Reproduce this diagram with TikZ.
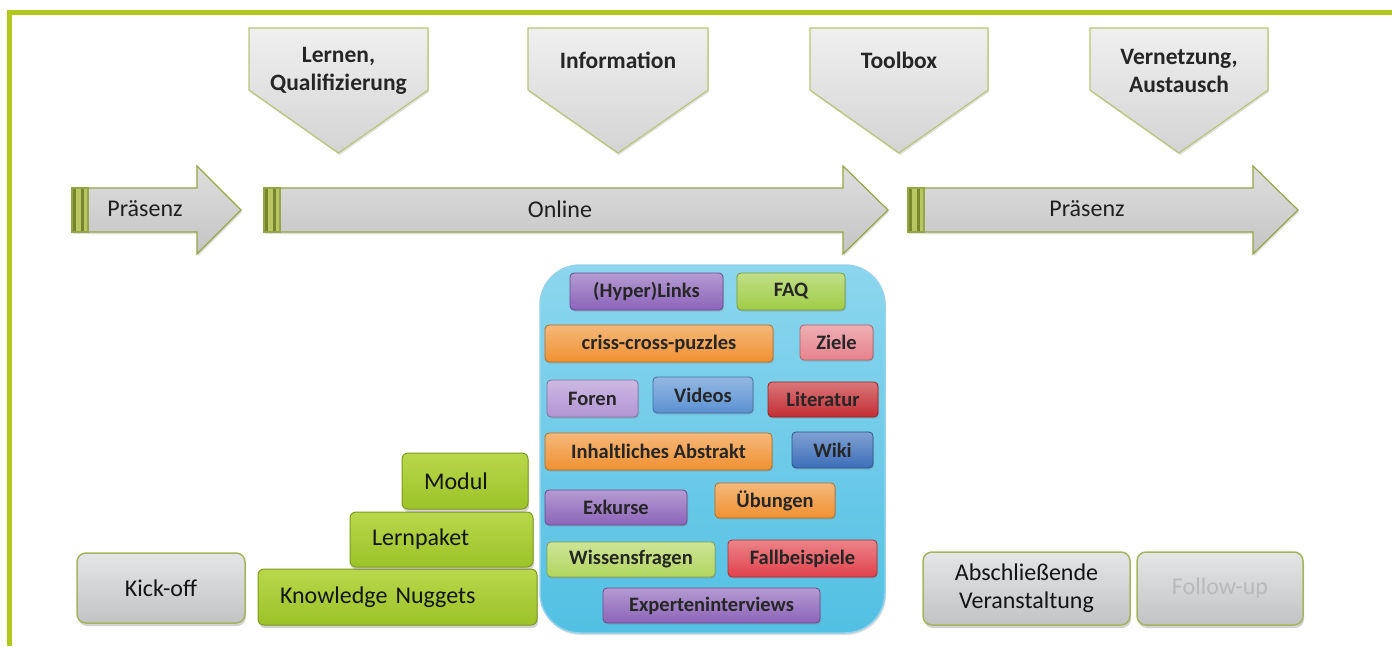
\documentclass[tikz,border=0pt]{standalone}
\usepackage{fontspec}
\setmainfont{Carlito}
\usetikzlibrary{shadows}
\definecolor{framegreen}{RGB}{178,200,30}
\definecolor{olivebd}{RGB}{150,165,70}
\definecolor{penbd}{RGB}{185,198,120}
\definecolor{stripebg}{RGB}{185,198,100}
\definecolor{stripedk}{RGB}{120,135,45}
\definecolor{stacktop}{RGB}{185,215,75}
\definecolor{stackbot}{RGB}{155,195,40}
\definecolor{stackbd}{RGB}{125,155,30}
\definecolor{graytop}{RGB}{228,229,230}
\definecolor{graybot}{RGB}{193,195,197}
\definecolor{graybd}{RGB}{165,180,95}
\definecolor{pooltop}{RGB}{140,214,238}
\definecolor{poolbot}{RGB}{82,192,227}
\definecolor{poolbd}{RGB}{150,210,235}
\definecolor{cpurple}{RGB}{140,100,185}
\definecolor{clpurple}{RGB}{178,148,212}
\definecolor{cgreen}{RGB}{160,205,70}
\definecolor{clgreen}{RGB}{178,214,95}
\definecolor{corange}{RGB}{240,145,50}
\definecolor{cpink}{RGB}{230,130,140}
\definecolor{cblue}{RGB}{90,145,210}
\definecolor{cdblue}{RGB}{60,110,185}
\definecolor{cred}{RGB}{195,45,50}
\definecolor{cred2}{RGB}{225,65,75}
\tikzset{
  lbl/.style={font=\fontsize{24}{28}\selectfont, text=black!88, inner sep=0pt},
  pentext/.style={font=\bfseries\fontsize{23.5}{28}\selectfont, align=center, text=black!85, inner sep=0pt},
  penta/.style={draw=penbd, line width=1.2pt, top color=black!6, bottom color=black!17,
    drop shadow={opacity=0.25, shadow xshift=1pt, shadow yshift=-2pt}},
  arrowbody/.style={draw=olivebd, line width=1.2pt, top color=black!13, bottom color=black!23,
    drop shadow={opacity=0.25, shadow xshift=1pt, shadow yshift=-2pt}},
  ibox/.style={rounded corners=4pt, inner sep=0pt, line width=0.8pt,
    font=\bfseries\fontsize{20.5}{22}\selectfont, text=black!85,
    top color=#1!65!white, bottom color=#1, draw=#1!75!black,
    drop shadow={opacity=0.3, shadow xshift=1pt, shadow yshift=-1.5pt}},
  gbox/.style={rounded corners=6pt, line width=1pt, draw=stackbd, top color=stacktop, bottom color=stackbot,
    font=\fontsize{24}{28}\selectfont, text=black!92, inner ysep=0pt, inner xsep=22pt, align=left,
    drop shadow={opacity=0.35, shadow xshift=1pt, shadow yshift=-3pt}},
  graybox/.style={rounded corners=9pt, line width=1.5pt, draw=graybd, top color=graytop, bottom color=graybot,
    font=\fontsize{24}{28}\selectfont, text=black!92, inner sep=0pt, align=center,
    drop shadow={opacity=0.35, shadow xshift=1pt, shadow yshift=-3pt}},
  pool/.style={rounded corners=40pt, line width=1.5pt, draw=poolbd, top color=pooltop, bottom color=poolbot,
    inner sep=0pt, drop shadow={opacity=0.25, shadow xshift=1pt, shadow yshift=-2pt}}
}
\newcommand\ibx[7]{\node[ibox=#6, minimum width={#4-#2}, minimum height={#5-#3}] (#1) at ({(#2+#4)/2},{(#3+#5)/2}) {#7};}
\newcommand\sbx[6]{\pgfmathsetmacro\tw{#4-#2-44}\node[gbox, text width=\tw pt, minimum height={#5-#3}] (#1) at ({(#2+#4)/2},{(#3+#5)/2}) {#6};}
\newcommand\gbx[6]{\node[graybox, minimum width={#4-#2}, minimum height={#5-#3}] (#1) at ({(#2+#4)/2},{(#3+#5)/2}) {#6};}
\newcommand\penta[5]{%
  \path[penta] (#2,28) -- (#3,28) -- (#3,90) -- ({(#2+#3)/2},153) -- (#2,90) -- cycle;
  \node[pentext] (#1) at ({(#2+#3)/2},#4) {#5};}
\newcommand\barrow[6]{%
  \path[arrowbody] (#2,188) -- (#3,188) -- (#3,166) -- (#4,210) -- (#3,254) -- (#3,232) -- (#2,232) -- cycle;
  \fill[stripebg] (#2,188) rectangle ({#2+16},232);
  \fill[stripedk] ({#2+1},188) rectangle ({#2+4},232);
  \fill[stripedk] ({#2+9},188) rectangle ({#2+12},232);
  \draw[olivebd, line width=1.2pt] (#2,188) rectangle ({#2+16},232);
  \node[lbl] (#1) at (#5,209) {#6};}
\begin{document}
\begin{tikzpicture}[x=1pt,y=-1pt]
\useasboundingbox (0,0) rectangle (1392,646);
\fill[white] (0,0) rectangle (1392,646);
% frame
\fill[framegreen] (7,10) rectangle (1392,15);
\fill[framegreen] (7,10) rectangle (12,646);
% callouts
\penta{lernen}{249}{428}{71}{Lernen,\\Qualifizierung}
\penta{info}{528}{708}{60}{Information}
\penta{toolbox}{810}{988}{60}{Toolbox}
\penta{vernetz}{1090}{1268}{71}{Vernetzung,\\Austausch}
% phase arrows
\barrow{praes1}{72}{197}{241}{145}{Präsenz}
\barrow{online}{264}{843}{888}{560}{Online}
\barrow{praes2}{908}{1253}{1298}{1087}{Präsenz}
% pool of elements
\node[pool, minimum width=345, minimum height=368] (pool) at (712.5,449) {};
\ibx{links}{570}{273}{723}{310}{cpurple}{(Hyper)Links}
\ibx{faq}{737}{273}{845}{310}{cgreen}{FAQ}
\ibx{criss}{545}{325}{773}{362}{corange}{criss-cross-puzzles}
\ibx{ziele}{800}{325}{873}{360}{cpink}{Ziele}
\ibx{foren}{547}{380}{638}{417}{clpurple}{Foren}
\ibx{videos}{653}{377}{753}{413}{cblue}{Videos}
\ibx{literatur}{768}{382}{878}{417}{cred}{Literatur}
\ibx{abstrakt}{545}{433}{772}{470}{corange}{Inhaltliches Abstrakt}
\ibx{wiki}{792}{432}{873}{468}{cdblue}{Wiki}
\ibx{exkurse}{545}{490}{687}{525}{cpurple}{Exkurse}
\ibx{uebungen}{715}{483}{835}{518}{corange}{Übungen}
\ibx{wissen}{547}{542}{715}{577}{clgreen}{Wissensfragen}
\ibx{fall}{728}{540}{877}{577}{cred2}{Fallbeispiele}
\ibx{experten}{603}{588}{820}{623}{cpurple}{Experteninterviews}
% stack
\sbx{nuggets}{258}{569}{537}{625}{Knowledge Nuggets}
\sbx{lernpaket}{350}{512}{533}{567}{Lernpaket}
\sbx{modul}{402}{453}{528}{509}{Modul}
% gray boxes
\gbx{kickoff}{77}{553}{245}{623}{Kick-off}
\gbx{abschluss}{923}{552}{1130}{625}{Abschließende\\Veranstaltung}
\node[graybox, minimum width=166, minimum height=73, text=black!27] (followup) at (1220,588.5) {Follow-up};
\end{tikzpicture}
\end{document}
